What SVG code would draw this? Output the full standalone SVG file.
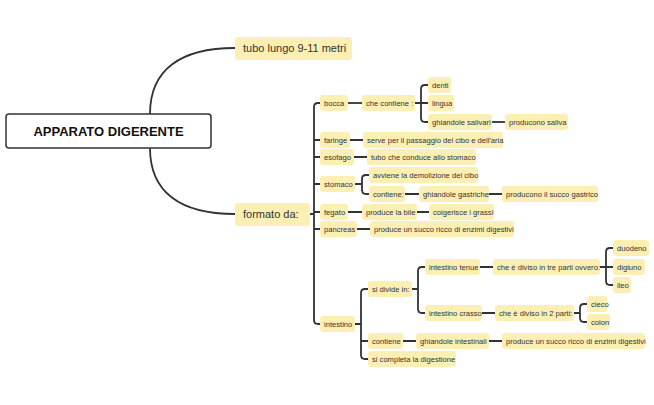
<svg xmlns="http://www.w3.org/2000/svg" width="654" height="405" viewBox="0 0 654 405">
<style>
.n rect{fill:#fcefb4;stroke:none}
.n text{font-family:"Liberation Sans",Arial,sans-serif;font-size:7.6px;fill:#333}
.b rect{fill:#fcefb4}
.b text{font-family:"Liberation Sans",Arial,sans-serif;font-size:11px;fill:#333}
#conn path{fill:none;stroke:#333;stroke-width:1.8}
</style>
<rect width="654" height="405" fill="#fff"/>
<g id="conn">
<path d="M150 114 C150 70 180 48 235 48"/>
<path d="M150 148 C150 192 180 214 235 214"/>
<path d="M310 214 H314 M320 103 H318 Q314 103 314 107 V320 Q314 324 318 324 H320 M314 140 H320 M314 157 H320 M314 184 H320 M314 212 H320 M314 229 H320"/>
<path d="M348 103 H362"/>
<path d="M415 103 H421 V89 Q421 85 425 85 H428 M421 103 H428 M421 103 V118 Q421 122 425 122 H428"/>
<path d="M492 122 H505"/>
<path d="M350 140 H363 M354 157 H367"/>
<path d="M355 184 H362 V179 Q362 175 366 175 H369 M362 184 V190 Q362 194 366 194 H369"/>
<path d="M405 194 H419 M489 194 H502"/>
<path d="M348 212 H362 M417 212 H429 M357 229 H370"/>
<path d="M355 324 H361 V293 Q361 289 365 289 H368 M361 324 V355 Q361 359 365 359 H368 M361 341 H368"/>
<path d="M412 289 H418 V271 Q418 267 422 267 H425 M418 289 V309 Q418 313 422 313 H425"/>
<path d="M480 267 H493 M482 313 H495"/>
<path d="M600 267 H606 V252 Q606 248 610 248 H613 M606 267 H613 M606 267 V281 Q606 285 610 285 H613"/>
<path d="M574 313 H580 V308 Q580 304 584 304 H587 M580 313 V318 Q580 322 584 322 H587"/>
<path d="M403 341 H416 M489 341 H502"/>
</g>
<g id="root"><rect x="6" y="114" width="205" height="34" rx="3" fill="#fff" stroke="#333" stroke-width="1.5"/><text x="108.5" y="135.5" text-anchor="middle" font-family="Liberation Sans,Arial,sans-serif" font-size="13" font-weight="bold" fill="#111">APPARATO DIGERENTE</text></g>
<g id="tubo" class="b"><rect x="235" y="37" width="117" height="23" rx="3"/><text x="243" y="52">tubo lungo 9-11 metri</text></g>
<g id="formato" class="b"><rect x="235" y="203" width="75" height="23" rx="3"/><text x="243" y="218">formato da:</text></g>
<g id="bocca" class="n"><rect x="320" y="95" width="28" height="16" rx="3"/><text x="324" y="105.7">bocca</text></g>
<g id="checontiene" class="n"><rect x="362" y="95" width="53" height="16" rx="3"/><text x="366" y="105.7">che contiene :</text></g>
<g id="denti" class="n"><rect x="428" y="77" width="23" height="16" rx="3"/><text x="432" y="87.7">denti</text></g>
<g id="lingua" class="n"><rect x="428" y="95" width="26" height="16" rx="3"/><text x="432" y="105.7">lingua</text></g>
<g id="gsal" class="n"><rect x="428" y="114" width="64" height="16" rx="3"/><text x="432" y="124.7">ghiandole salivari</text></g>
<g id="saliva" class="n"><rect x="505" y="114" width="63" height="16" rx="3"/><text x="509" y="124.7">producono saliva</text></g>
<g id="faringe" class="n"><rect x="320" y="132" width="30" height="16" rx="3"/><text x="324" y="142.7">faringe</text></g>
<g id="serve" class="n"><rect x="363" y="132" width="140" height="16" rx="3"/><text x="367" y="142.7">serve per il passaggio del cibo e dell'aria</text></g>
<g id="esofago" class="n"><rect x="320" y="149" width="34" height="16" rx="3"/><text x="324" y="159.7">esofago</text></g>
<g id="tubostom" class="n"><rect x="367" y="149" width="109" height="16" rx="3"/><text x="371" y="159.7">tubo che conduce allo stomaco</text></g>
<g id="stomaco" class="n"><rect x="320" y="176" width="35" height="16" rx="3"/><text x="324" y="186.7">stomaco</text></g>
<g id="avviene" class="n"><rect x="369" y="167" width="109" height="16" rx="3"/><text x="373" y="177.7">avviene la demolizione del cibo</text></g>
<g id="contiene1" class="n"><rect x="369" y="186" width="36" height="16" rx="3"/><text x="373" y="196.7">contiene:</text></g>
<g id="ggas" class="n"><rect x="419" y="186" width="70" height="16" rx="3"/><text x="423" y="196.7">ghiandole gastriche</text></g>
<g id="succog" class="n"><rect x="502" y="186" width="96" height="16" rx="3"/><text x="506" y="196.7">producono il succo gastrico</text></g>
<g id="fegato" class="n"><rect x="320" y="204" width="28" height="16" rx="3"/><text x="324" y="214.7">fegato</text></g>
<g id="bile" class="n"><rect x="362" y="204" width="55" height="16" rx="3"/><text x="366" y="214.7">produce la bile</text></g>
<g id="grassi" class="n"><rect x="429" y="204" width="65" height="16" rx="3"/><text x="433" y="214.7">coigerisce i grassi</text></g>
<g id="pancreas" class="n"><rect x="320" y="221" width="37" height="16" rx="3"/><text x="324" y="231.7">pancreas</text></g>
<g id="succop" class="n"><rect x="370" y="221" width="144" height="16" rx="3"/><text x="374" y="231.7">produce un succo ricco di enzimi digestivi</text></g>
<g id="intestino" class="n"><rect x="320" y="316" width="35" height="16" rx="3"/><text x="324" y="326.7">intestino</text></g>
<g id="sidivide" class="n"><rect x="368" y="281" width="44" height="16" rx="3"/><text x="372" y="291.7">si divide in:</text></g>
<g id="tenue" class="n"><rect x="425" y="259" width="55" height="16" rx="3"/><text x="429" y="269.7">intestino tenue</text></g>
<g id="tre" class="n"><rect x="493" y="259" width="107" height="16" rx="3"/><text x="497" y="269.7">che è diviso in tre parti ovvero:</text></g>
<g id="duodeno" class="n"><rect x="613" y="240" width="36" height="16" rx="3"/><text x="617" y="250.7">duodeno</text></g>
<g id="digiuno" class="n"><rect x="613" y="259" width="32" height="16" rx="3"/><text x="617" y="269.7">digiuno</text></g>
<g id="ileo" class="n"><rect x="613" y="277" width="18" height="16" rx="3"/><text x="617" y="287.7">ileo</text></g>
<g id="crasso" class="n"><rect x="425" y="305" width="57" height="16" rx="3"/><text x="429" y="315.7">intestino crasso</text></g>
<g id="due" class="n"><rect x="495" y="305" width="79" height="16" rx="3"/><text x="499" y="315.7">che è diviso in 2 parti:</text></g>
<g id="cieco" class="n"><rect x="587" y="296" width="20" height="16" rx="3"/><text x="591" y="306.7">cieco</text></g>
<g id="colon" class="n"><rect x="587" y="314" width="23" height="16" rx="3"/><text x="591" y="324.7">colon</text></g>
<g id="contiene2" class="n"><rect x="368" y="333" width="35" height="16" rx="3"/><text x="372" y="343.7">contiene</text></g>
<g id="gint" class="n"><rect x="416" y="333" width="73" height="16" rx="3"/><text x="420" y="343.7">ghiandole intestinali</text></g>
<g id="succoi" class="n"><rect x="502" y="333" width="143" height="16" rx="3"/><text x="506" y="343.7">produce un succo ricco di enzimi digestivi</text></g>
<g id="completa" class="n"><rect x="368" y="351" width="88" height="16" rx="3"/><text x="372" y="361.7">si completa la digestione</text></g>
</svg>
